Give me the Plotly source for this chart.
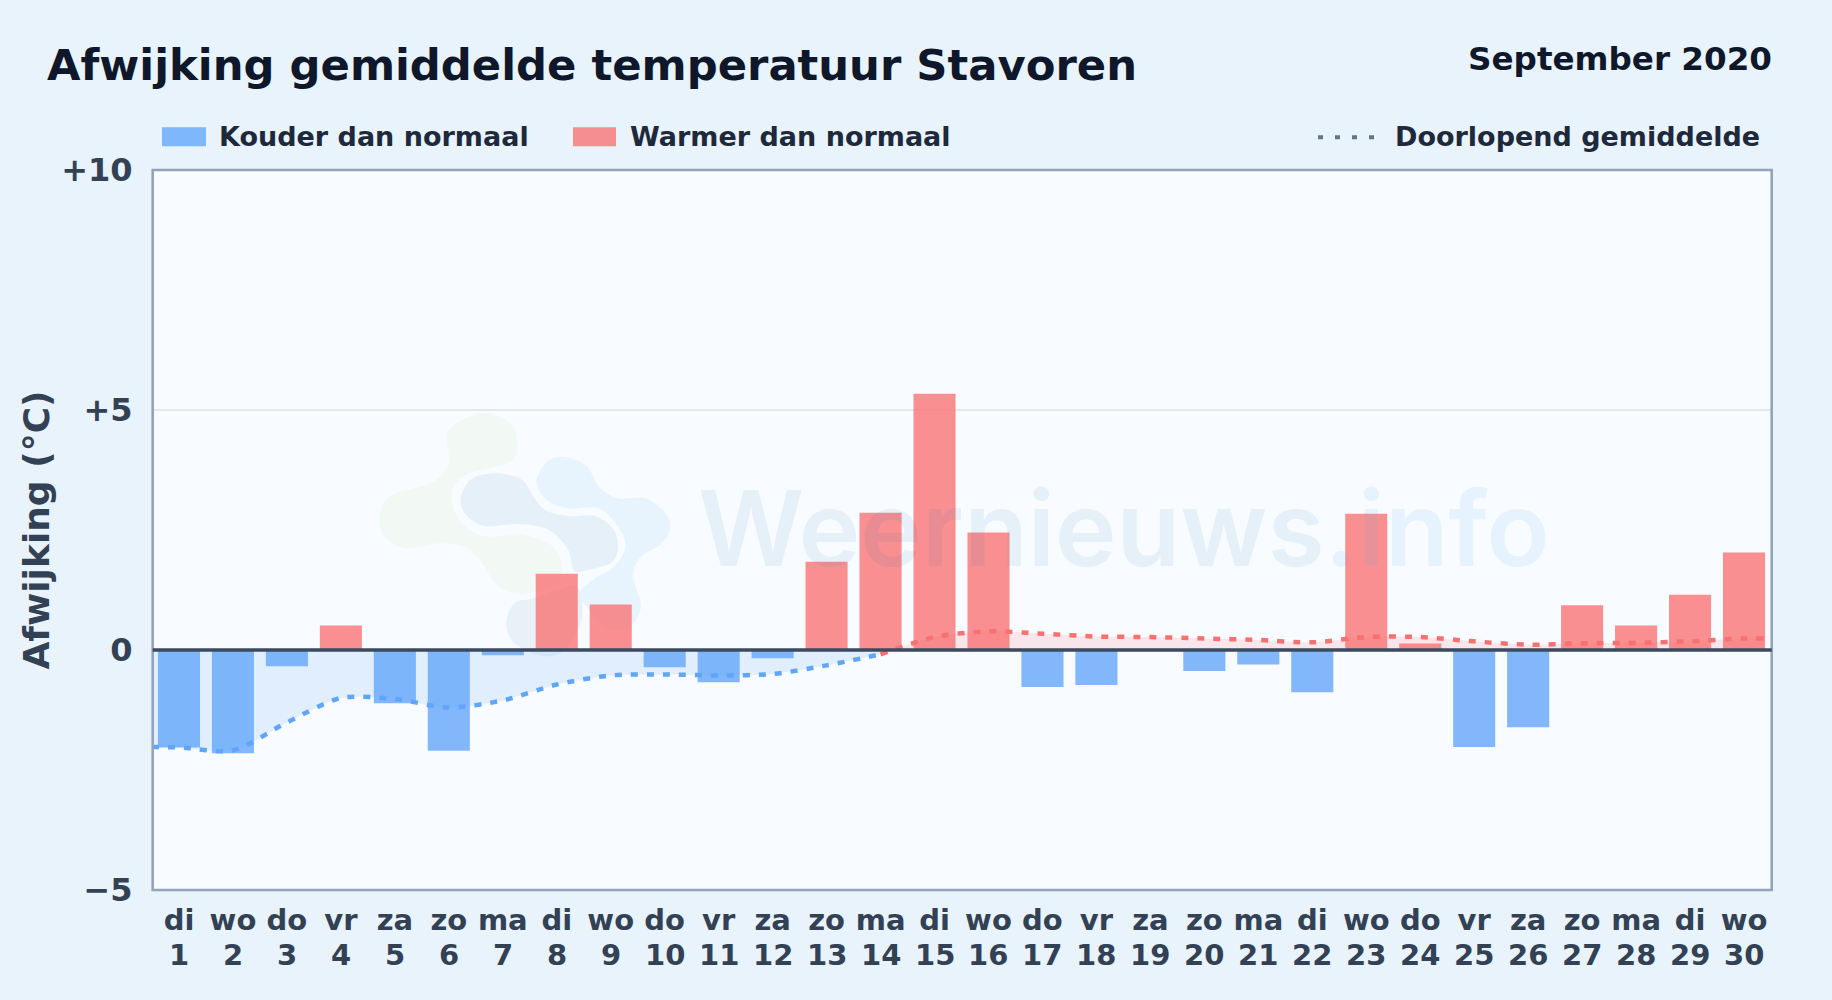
import plotly.graph_objects as go

WEEKDAYS = ["di","wo","do","vr","za","zo","ma"]*4 + ["di","wo"]
DAYS = list(range(1, 31))
DEVIATION = [-2.03,-2.15,-0.34,0.51,-1.11,-2.10,-0.11,1.59,0.95,-0.36,-0.67,-0.17,1.84,2.86,5.34,
             2.45,-0.77,-0.73,0.0,-0.44,-0.30,-0.88,2.84,0.135,-2.02,-1.61,0.93,0.51,1.15,2.03]
RUNNING_MEAN = [-2.03,-2.09,-1.51,-1.00,-1.02,-1.20,-1.05,-0.72,-0.53,-0.51,-0.53,-0.50,-0.32,-0.09,0.27,
                0.39,0.34,0.28,0.27,0.24,0.21,0.16,0.27,0.27,0.18,0.11,0.14,0.15,0.18,0.24]
LINE_START = (0.5, -2.02)
LINE_END = (30.36, 0.24)
Y_TICKS = [-5, 0, 5, 10]
Y_LABELS = ["−5", "0", "+5", "+10"]

# Plot frame in page pixels
L, R, T, B = 152.0, 1771.0, 169.7, 890.3
W, H = 1832, 1000
FONT = "DejaVu Sans"

BLUE, RED = "#60a5fa", "#f87171"
BLUE_BAR, RED_BAR = "rgba(96,165,250,0.78)", "rgba(248,113,113,0.78)"
BLUE_FILL, RED_FILL = "rgba(96,165,250,0.15)", "rgba(248,113,113,0.15)"
PAPER, PLOT = "#e8f3fc", "#f8fbff"

def dx(px): return 0.5 + (px - L) / (R - L) * 30
def dy(py): return 10 - (py - T) / (B - T) * 15
def pfx(px): return (px - L) / (R - L)
def pfy(py): return (B - py) / (B - T)

def zoom_pt(p): return (350 + p[0] / 2.613, 380 + p[1] / 3)
LOGO_GREEN = [(258,150),(345,100),(420,130),(437,190),(425,240),(370,262),(300,285),(265,340),(285,420),
              (350,468),(450,465),(530,500),(555,570),(530,610),(490,635),(430,640),(380,610),(340,540),
              (300,500),(230,490),(150,505),(90,470),(78,400),(110,345),(210,310),(258,250)]
LOGO_CENTER = [(290,350),(320,295),(390,280),(450,300),(480,350),(510,390),(570,408),(640,408),(690,450),
               (700,510),(680,550),(620,570),(585,572),(570,510),(520,450),(440,432),(350,438),(300,400)]
LOGO_LOWER = [(408,730),(430,670),(480,655),(540,630),(595,622),(605,720),(560,810),(500,828),(430,790)]
LOGO_BLUE = [(490,290),(520,240),(570,232),(620,260),(650,320),(700,355),(770,355),(825,400),(835,450),
             (810,495),(760,530),(740,590),(760,680),(730,740),(670,745),(625,690),(600,640),(640,595),
             (690,560),(720,500),(700,440),(650,385),(570,385),(515,360),(490,320)]

def blob(points):
    pts = [zoom_pt(p) for p in points]
    pts = [(dx(a), dy(b)) for a, b in pts]
    n = len(pts)
    d = f"M {pts[0][0]:.4f},{pts[0][1]:.4f}"
    for i in range(n):
        p0, p1, p2, p3 = pts[i-1], pts[i], pts[(i+1) % n], pts[(i+2) % n]
        c1 = (p1[0] + (p2[0]-p0[0])/6, p1[1] + (p2[1]-p0[1])/6)
        c2 = (p2[0] - (p3[0]-p1[0])/6, p2[1] - (p3[1]-p1[1])/6)
        d += f" C {c1[0]:.4f},{c1[1]:.4f} {c2[0]:.4f},{c2[1]:.4f} {p2[0]:.4f},{p2[1]:.4f}"
    return d + " Z"

shapes = []
for pts, col in [(LOGO_GREEN, "#f2f8f3"), (LOGO_BLUE, "#e7f4fe"), (LOGO_CENTER, "#e6f0f9"), (LOGO_LOWER, "#e8f0f8")]:
    shapes.append(dict(type="path", path=blob(pts), xref="x", yref="y", layer="below",
                       fillcolor=col, line=dict(width=0)))

# frame, zero line, legend swatches and the dotted legend key
shapes.append(dict(type="rect", xref="paper", yref="paper", x0=pfx(152.7), x1=pfx(1771.7), y0=0, y1=1, layer="above",
                   line=dict(color="#94a3b8", width=2.6), fillcolor="rgba(0,0,0,0)"))
shapes.append(dict(type="line", xref="paper", yref="y", x0=pfx(152.7), x1=pfx(1771.7), y0=0, y1=0, layer="above",
                   line=dict(color="#3b4a5e", width=3.4)))
for x0, x1, col in [(162, 206, BLUE_BAR), (573, 616, RED_BAR)]:
    shapes.append(dict(type="rect", xref="paper", yref="paper", x0=pfx(x0), x1=pfx(x1),
                       y0=pfy(146), y1=pfy(127), fillcolor=col, line=dict(width=0)))
shapes.append(dict(type="line", xref="paper", yref="paper", x0=pfx(1318), x1=pfx(1375), y0=pfy(137), y1=pfy(137),
                   line=dict(color="#64748b", width=4, dash="5px,12px")))

def text(x, y, s, size, color, anchor="left", **kw):
    return dict(xref="paper", yref="paper", x=pfx(x), y=pfy(y), text=f"<b>{s}</b>", showarrow=False,
                xanchor=anchor, yanchor="middle", font=dict(family=FONT, size=size, color=color), **kw)

annotations = [
    dict(xref="paper", yref="paper", x=pfx(1124), y=pfy(528),
         text='<span style="color:rgba(23,113,180,0.08)">Weernieuws</span>'
              '<span style="color:rgba(78,171,235,0.10)">.info</span>', showarrow=False,
         xanchor="center", yanchor="middle",
         font=dict(family="Inter", size=104, weight=600, color="#1771b4")),
    text(45, 64.5, "Afwijking gemiddelde temperatuur Stavoren", 43.3, "#0f172a"),
    text(1774, 59, "September 2020", 32.6, "#0f172a", anchor="right"),
    text(217, 136.5, "Kouder dan normaal", 27, "#1e293b"),
    text(628, 136.5, "Warmer dan normaal", 27, "#1e293b"),
    text(1393, 136.5, "Doorlopend gemiddelde", 27, "#1e293b"),
]
for d in DAYS:
    annotations.append(dict(xref="x", yref="paper", x=d, y=pfy(955), text=f"<b>{d}</b>", showarrow=False,
                            xanchor="center", yanchor="middle",
                            font=dict(family=FONT, size=29, color="#334155")))

fig = go.Figure()
neg = [v if v < 0 else None for v in DEVIATION]
pos = [v if v > 0 else None for v in DEVIATION]
fig.add_bar(x=DAYS, y=neg, marker=dict(color=BLUE_BAR, line=dict(width=0)), width=0.78, name="Kouder dan normaal")
fig.add_bar(x=DAYS, y=pos, marker=dict(color=RED_BAR, line=dict(width=0)), width=0.78, name="Warmer dan normaal")

x_all = [LINE_START[0]] + DAYS + [LINE_END[0]]
y_all = [LINE_START[1]] + RUNNING_MEAN + [LINE_END[1]]
split = 15  # index of day 14 in the extended lists
fig.add_scatter(x=x_all[:split], y=y_all[:split], mode="lines", name="Doorlopend gemiddelde",
                line=dict(color=BLUE, width=4.5, dash="7px,9px", shape="spline", smoothing=0.8),
                fill="tozeroy", fillcolor=BLUE_FILL)
fig.add_scatter(x=x_all[split-1:], y=y_all[split-1:], mode="lines", name="Doorlopend gemiddelde",
                line=dict(color=RED, width=4.5, dash="7px,9px", shape="spline", smoothing=0.8),
                fill="tozeroy", fillcolor=RED_FILL)

fig.update_layout(
    width=W, height=H, showlegend=False, barmode="overlay",
    paper_bgcolor=PAPER, plot_bgcolor=PLOT,
    margin=dict(l=L, r=W-R, t=T, b=H-B, autoexpand=False),
    font=dict(family=FONT, color="#334155"),
    shapes=shapes, annotations=annotations,
    xaxis=dict(range=[0.5, 30.5], tickmode="array", tickvals=DAYS,
               ticktext=[f"<b>{a}</b>" for a in WEEKDAYS],
               tickfont=dict(family=FONT, size=29, color="#334155"), ticks="outside", ticklen=4, tickcolor="rgba(0,0,0,0)",
               showgrid=False, zeroline=False, showline=False, tickangle=0),
    yaxis=dict(range=[-5, 10], tickmode="array", tickvals=Y_TICKS,
               ticktext=[f"<b>{t}</b>" for t in Y_LABELS],
               tickfont=dict(family=FONT, size=32, color="#334155"), ticks="outside", ticklen=12, tickcolor="rgba(0,0,0,0)",
               showgrid=True, gridcolor="#e2e8f0", gridwidth=1.5, zeroline=False, showline=False,
               title=dict(text="<b>Afwijking (°C)</b>", font=dict(family=FONT, size=36, color="#334155"), standoff=0)),
)

fig.write_html("out.html", config=dict(displayModeBar=False),
               post_script="document.body.style.margin='0';document.body.style.background='%s';" % PAPER)
